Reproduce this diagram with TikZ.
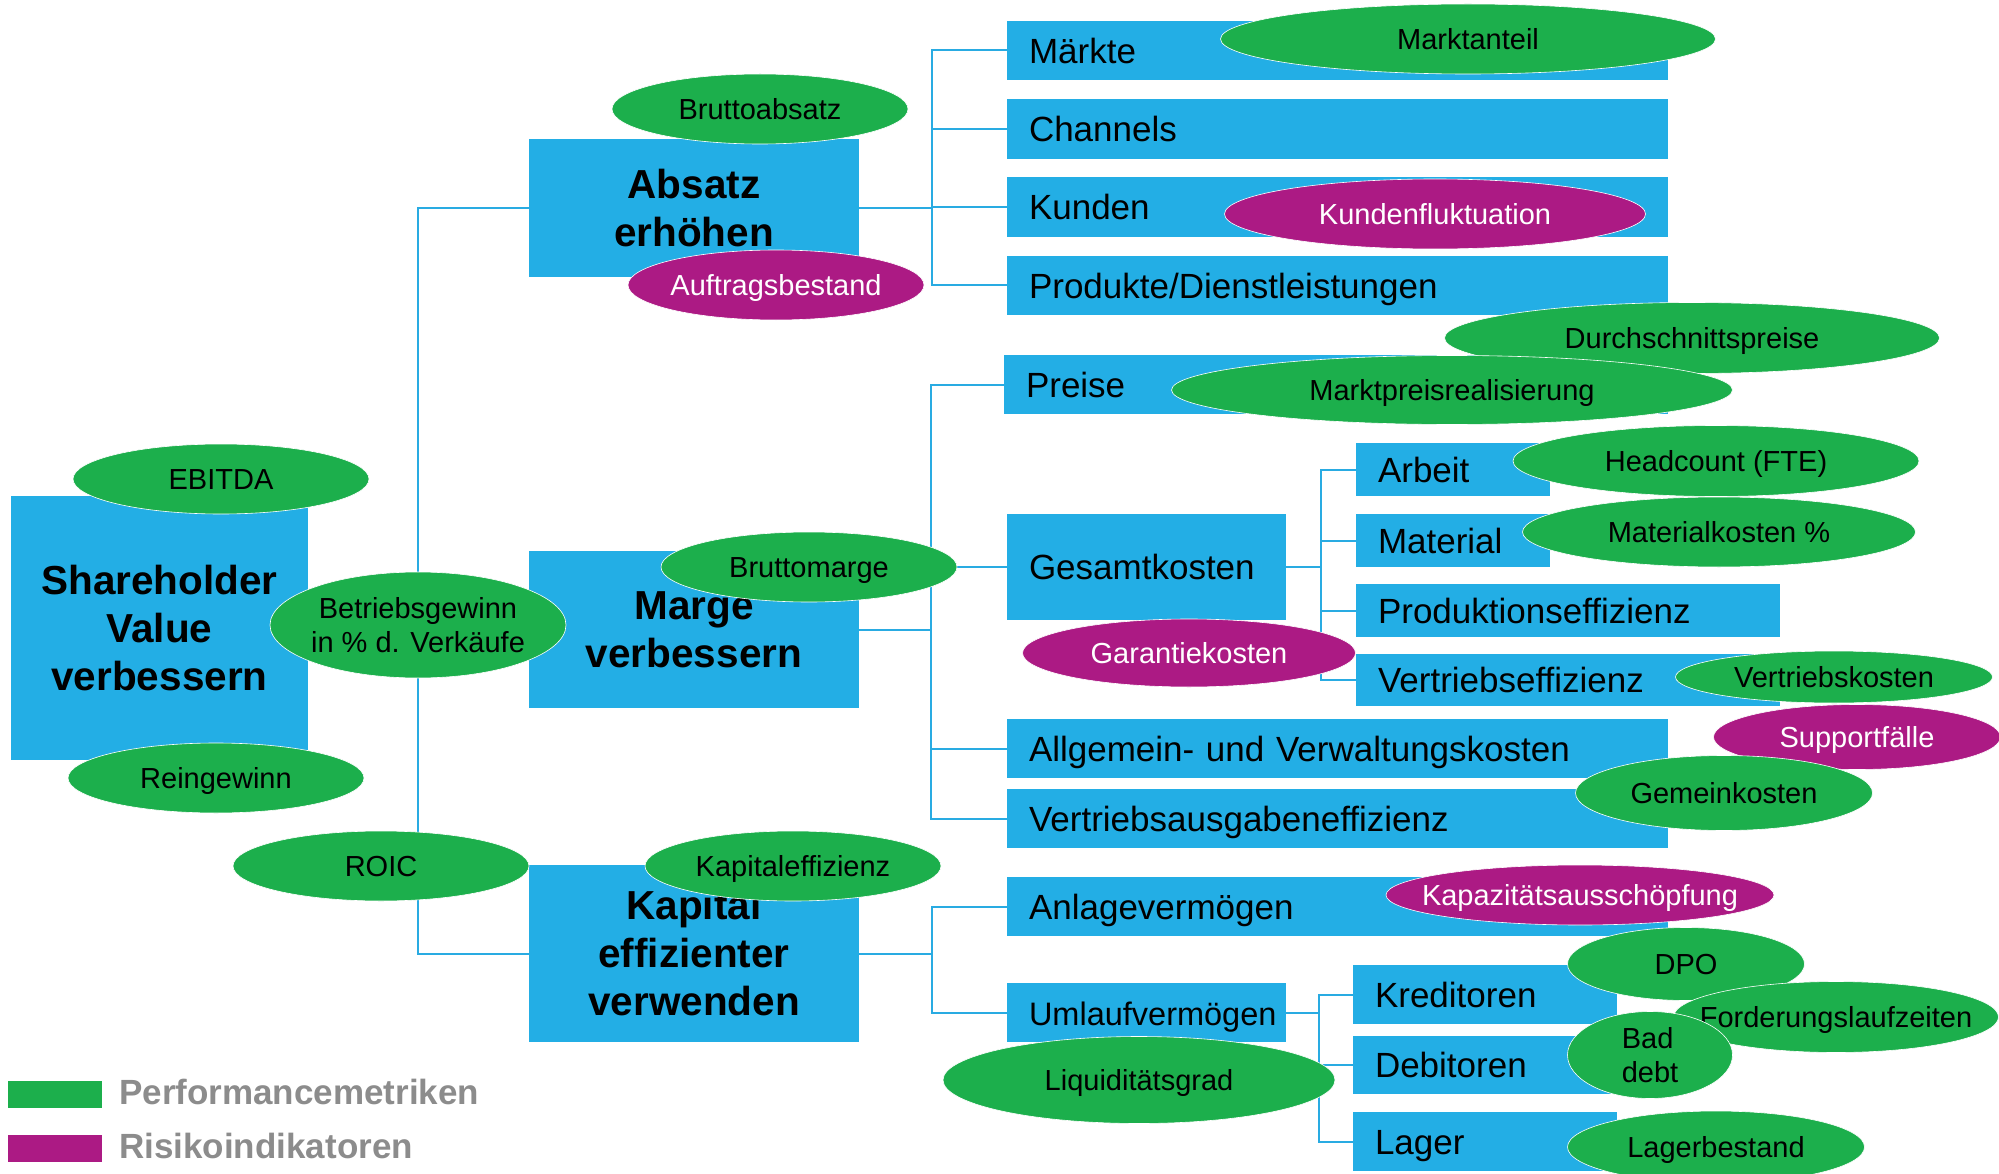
\documentclass[tikz,border=0pt]{standalone}
\usepackage{fontspec}
\setmainfont{Liberation Sans}
\usetikzlibrary{shapes.geometric}
\definecolor{boxblue}{HTML}{23AEE5}
\definecolor{lineblue}{HTML}{29ABE2}
\definecolor{mgreen}{HTML}{1CAF4C}
\definecolor{mpurple}{HTML}{AC1A84}
\definecolor{leggray}{HTML}{8C8C8C}
\pgfdeclarelayer{bg}
\pgfsetlayers{bg,main}
% right-column box: name, x1, y1, x2, y2, text
\newcommand\rboxnode[6]{%
  \pgfmathsetmacro\rbw{#4-#2-44}\pgfmathsetmacro\rbh{#5-#3}%
  \node[rboxst, text width=\rbw pt, minimum height=\rbh pt] (#1) at ({(#2+#4)/2},{(#3+#5)/2}) {#6};}
% big bold box
\newcommand\bboxnode[6]{%
  \pgfmathsetmacro\rbw{#4-#2}\pgfmathsetmacro\rbh{#5-#3}%
  \node[bigbox, minimum width=\rbw pt, minimum height=\rbh pt] (#1) at ({(#2+#4)/2},{(#3+#5)/2}) {#6};}
% ellipses: name, cx, cy, w, h, text
\newcommand\gellnode[6]{%
  \node[gell, minimum width=#4pt, minimum height=#5pt, label={[gtext]center:{#6}}] (#1) at (#2,#3) {};}
\newcommand\pellnode[6]{%
  \node[pell, minimum width=#4pt, minimum height=#5pt, label={[ptext]center:{#6}}] (#1) at (#2,#3) {};}
\newcommand\gellmulti[6]{%
  \node[gell, minimum width=#4pt, minimum height=#5pt, label={[gtextm]center:{#6}}] (#1) at (#2,#3) {};}
\begin{document}
\begin{tikzpicture}[x=1pt,y=-1pt,
  rboxst/.style={rectangle, fill=boxblue, inner xsep=22pt, inner ysep=0pt, align=left,
    font=\fontsize{35}{41}\selectfont, text height=25.1pt, text depth=0pt},
  bigbox/.style={rectangle, fill=boxblue, inner sep=0pt, align=center,
    font=\fontsize{40.5}{48}\selectfont\bfseries},
  gell/.style={ellipse, fill=mgreen, draw=white, line width=0.6pt, inner sep=0pt},
  pell/.style={gell, fill=mpurple},
  gtext/.style={inner sep=0pt, font=\fontsize{29}{34}\selectfont, text=black, text height=20.8pt, text depth=0pt},
  ptext/.style={gtext, text=white},
  gtextm/.style={inner sep=0pt, font=\fontsize{29}{34}\selectfont, text=black, align=center},
  conn/.style={draw=lineblue, line width=2pt},
  legtext/.style={inner sep=0pt, anchor=west, text=leggray, font=\fontsize{35}{42}\selectfont\bfseries}
]
\useasboundingbox (0,0) rectangle (1999,1174);

% main boxes
\bboxnode{sh}{11}{496}{308}{760}{Shareholder\\Value\\verbessern}
\bboxnode{absatz}{529}{139}{859}{277}{Absatz\\erhöhen}
\bboxnode{marge}{529}{551}{859}{708}{Marge\\verbessern}
\bboxnode{kapital}{529}{865}{859}{1042}{Kapital\\effizienter\\verwenden}

% right-column boxes
\rboxnode{maerkte}{1007}{21}{1668}{80}{Märkte}
\rboxnode{channels}{1007}{99}{1668}{159}{Channels}
\rboxnode{kunden}{1007}{177}{1668}{237}{Kunden}
\rboxnode{produkte}{1007}{256}{1668}{315}{Produkte/Dienstleistungen}
\rboxnode{preise}{1004}{355}{1668}{414}{Preise}
\rboxnode{gesamt}{1007}{514}{1286}{620}{Gesamtkosten}
\rboxnode{arbeit}{1356}{443}{1550}{496}{Arbeit}
\rboxnode{material}{1356}{514}{1550}{567}{Material}
\rboxnode{produktion}{1356}{584}{1780}{637}{Produktionseffizienz}
\rboxnode{vertriebseff}{1356}{654}{1780}{706}{Vertriebseffizienz}
\rboxnode{allgemein}{1007}{719}{1668}{778}{Allgemein- und Verwaltungskosten}
\rboxnode{vae}{1007}{789}{1668}{848}{Vertriebsausgabeneffizienz}
\rboxnode{anlage}{1007}{877}{1668}{936}{Anlagevermögen}
\rboxnode{umlauf}{1007}{983}{1286}{1042}{\fontsize{32.5}{40}\selectfont Umlaufvermögen}
\rboxnode{kreditoren}{1353}{965}{1617}{1024}{Kreditoren}
\rboxnode{debitoren}{1353}{1036}{1617}{1094}{Debitoren}
\rboxnode{lager}{1353}{1112}{1617}{1171}{Lager}

% connectors
\coordinate (j0) at (418,0);
\coordinate (jA) at (932,0);
\coordinate (jM) at (931,0);
\coordinate (jG) at (1321,0);
\coordinate (jK) at (932,0);
\coordinate (jU) at (1319,0);
\begin{pgfonlayer}{bg}
\fill[white] (0,0) rectangle (1999,1174);
\draw[conn] (absatz.west) -| (j0 |- kapital.west) -- (kapital.west);
\draw[conn] (sh.east) -- (sh.east -| j0);
\draw[conn] (marge.west) -- (marge.west -| j0);

\draw[conn] (absatz.east) -- (absatz.east -| jA);
\draw[conn] (maerkte.west) -| (jA |- produkte.west) -- (produkte.west);
\draw[conn] (channels.west) -- (channels.west -| jA);
\draw[conn] (kunden.west) -- (kunden.west -| jA);

\draw[conn] (marge.east) -- (marge.east -| jM);
\draw[conn] (preise.west) -| (jM |- vae.west) -- (vae.west);
\draw[conn] (gesamt.west) -- (gesamt.west -| jM);
\draw[conn] (allgemein.west) -- (allgemein.west -| jM);

\draw[conn] (gesamt.east) -- (gesamt.east -| jG);
\draw[conn] (arbeit.west) -| (jG |- vertriebseff.west) -- (vertriebseff.west);
\draw[conn] (material.west) -- (material.west -| jG);
\draw[conn] (produktion.west) -- (produktion.west -| jG);

\draw[conn] (kapital.east) -- (kapital.east -| jK);
\draw[conn] (anlage.west) -| (jK |- umlauf.west) -- (umlauf.west);

\draw[conn] (umlauf.east) -- (umlauf.east -| jU);
\draw[conn] (kreditoren.west) -| (jU |- lager.west) -- (lager.west);
\draw[conn] (debitoren.west) -- (debitoren.west -| jU);
\end{pgfonlayer}

% ellipses
\gellnode{bruttoabsatz}{760}{109}{296}{70}{Bruttoabsatz}
\pellnode{auftrag}{776}{285}{296}{70}{Auftragsbestand}
\gellnode{ebitda}{221}{479}{296}{70}{EBITDA}
\gellnode{bruttomarge}{809}{567}{296}{70}{Bruttomarge}
\gellmulti{betriebsgewinn}{418}{625}{296}{106}{Betriebsgewinn\\in \% d. Verkäufe}
\gellnode{reingewinn}{216}{778}{296}{70}{Reingewinn}
\gellnode{roic}{381}{866}{296}{70}{ROIC}
\gellnode{kapeff}{793}{866}{296}{70}{Kapitaleffizienz}
\gellnode{marktanteil}{1468}{39}{495}{70}{Marktanteil}
\pellnode{kundenfl}{1435}{214}{421}{70}{Kundenfluktuation}
\gellnode{durchschnitt}{1692}{338}{495}{71}{Durchschnittspreise}
\gellnode{marktpreis}{1452}{390}{561}{69}{Marktpreisrealisierung}
\gellnode{headcount}{1716}{461}{406}{71}{Headcount (FTE)}
\gellnode{materialkosten}{1719}{532}{393}{70}{Materialkosten \%}
\pellnode{garantie}{1189}{653}{333}{68}{Garantiekosten}
\gellnode{vertriebskosten}{1834}{677}{317}{52}{Vertriebskosten}
\pellnode{support}{1857}{737}{287}{65}{Supportfälle}
\gellnode{gemeinkosten}{1724}{793}{297}{75}{Gemeinkosten}
\pellnode{kapazitaet}{1580}{895}{388}{60}{Kapazitätsausschöpfung}
\gellnode{dpo}{1686}{964}{237}{73}{DPO}
\gellnode{forderung}{1836}{1017}{325}{71}{Forderungslaufzeiten}
\node[gell, minimum width=165pt, minimum height=87pt,
  label={[gtextm, align=left]center:{Bad\\debt}}] (baddebt) at (1650,1055) {};
\gellnode{liquid}{1139}{1080}{392}{87}{Liquiditätsgrad}
\gellnode{lagerbestand}{1716}{1147}{297}{72}{Lagerbestand}

% legend
\node[fill=mgreen, inner sep=0pt, minimum width=94pt, minimum height=27pt] (leggreen) at (55,1094.5) {};
\node[fill=mpurple, inner sep=0pt, minimum width=94pt, minimum height=27pt] (legpurple) at (55,1148) {};
\node[legtext] (legperf) at (119,1092) {Performancemetriken};
\node[legtext] (legrisk) at (119,1146) {Risikoindikatoren};
\end{tikzpicture}
\end{document}
